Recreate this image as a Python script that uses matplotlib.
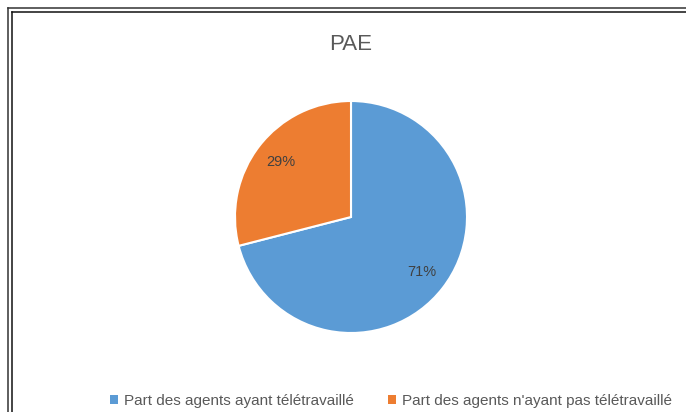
import matplotlib.pyplot as plt
from matplotlib.lines import Line2D
from matplotlib.patches import Patch

labels = ["Part des agents ayant télétravaillé", "Part des agents n'ayant pas télétravaillé"]
values = [71, 29]
colors = ["#5B9BD5", "#ED7D31"]

W, H = 686, 412
fig = plt.figure(figsize=(W / 100, H / 100), dpi=100)
plt.rcParams["font.family"] = ["Liberation Sans", "DejaVu Sans"]

# pie: centre (351, 217), radius 116 px
cx, cy, r = 351, 217, 116
ax = fig.add_axes([(cx - r) / W, (H - cy - r) / H, 2 * r / W, 2 * r / H])
wedges, _, autotexts = ax.pie(
    values, colors=colors, startangle=90, counterclock=False,
    autopct="%d%%", pctdistance=0.77,
    wedgeprops=dict(edgecolor="white", linewidth=1.5),
    textprops=dict(color="#404040", fontsize=10.5),
)
ax.set_xlim(-1, 1)
ax.set_ylim(-1, 1)
ax.set_aspect("equal")

fig.text(cx / W, 1 - 44 / H, "PAE", ha="center", va="center",
         fontsize=16, color="#595959")

handles = [Patch(facecolor=c, edgecolor="none") for c in colors]
fig.legend(handles, labels, loc="center", bbox_to_anchor=(391 / W, 1 - 401 / H),
           ncol=2, frameon=False, fontsize=11, handlelength=0.55, handleheight=0.55,
           handletextpad=0.4, columnspacing=2.2, labelcolor="#595959",
           borderpad=0, borderaxespad=0)

# double frame, cut at right and bottom
for off, col in [(7.5, "#333333"), (11.5, "#111111")]:
    fig.add_artist(Line2D([off / W, off / W], [0, 1 - off / H], color=col, lw=1.1,
                          transform=fig.transFigure))
    fig.add_artist(Line2D([off / W, 1], [1 - off / H, 1 - off / H], color=col, lw=1.1,
                          transform=fig.transFigure))

fig.savefig("out.png", dpi=100)
